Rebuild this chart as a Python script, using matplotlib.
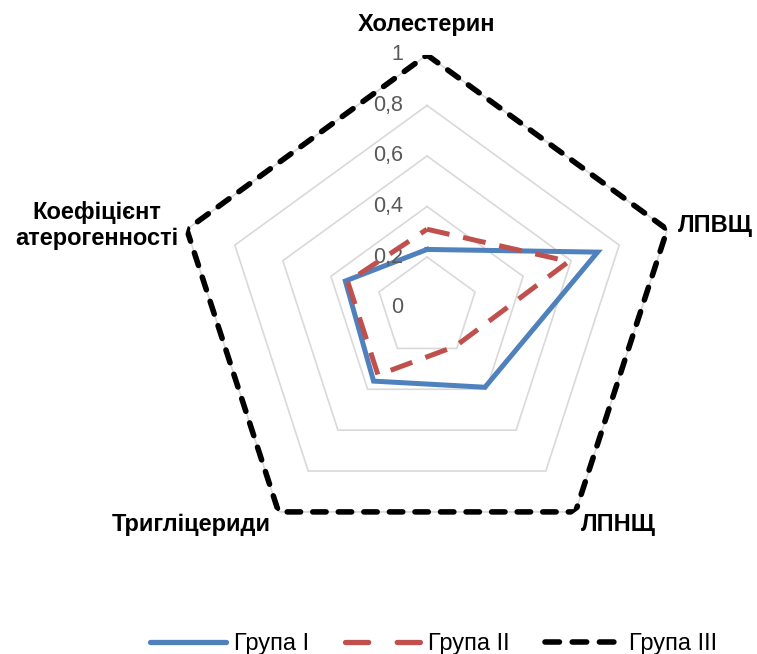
import numpy as np
import matplotlib
matplotlib.use("Agg")
from matplotlib import pyplot as plt
from matplotlib.lines import Line2D

plt.rcParams['font.family'] = ['Liberation Sans', 'DejaVu Sans']

categories = ['Холестерин', 'ЛПВЩ', 'ЛПНЩ', 'Тригліцериди', 'Коефіцієнт\nатерогенності']
group1 = [0.23, 0.71, 0.39, 0.36, 0.34]
group2 = [0.31, 0.59, 0.19, 0.33, 0.33]
group3 = [1.0, 1.0, 1.0, 1.0, 1.0]
series_names = ['Група I', 'Група II', 'Група III']
rings = [0.2, 0.4, 0.6, 0.8, 1.0]
tick_labels = ['0', '0,2', '0,4', '0,6', '0,8', '1']

n = len(categories)
angles = np.linspace(0, 2 * np.pi, n, endpoint=False)
closed = np.append(angles, angles[0])

def close(vals):
    return list(vals) + [vals[0]]

fig = plt.figure(figsize=(7.57, 6.54), dpi=100)
ax = fig.add_axes([0.2304, 0.1435, 0.6674, 0.7725], projection='polar')
ax.set_theta_offset(np.pi / 2)
ax.set_theta_direction(-1)
ax.set_ylim(0, 1)
ax.grid(False)
ax.spines['polar'].set_visible(False)
ax.set_xticks([])
ax.set_yticks([])

# pentagon gridlines
for r in rings:
    ax.plot(closed, [r] * (n + 1), color='#d9d9d9', lw=1.2, zorder=1)

# value labels along the top axis
for v, lab in zip([0.0] + rings, tick_labels):
    ax.annotate(lab, xy=(0, v), xytext=(-24, 0), textcoords='offset pixels',
                ha='right', va='center', fontsize=15.5, color='#595959')

blue = '#4f81bd'
red = '#c0504d'
ax.plot(closed, close(group3), color='black', lw=4.0,
        linestyle=(0, (2.4, 2.2)), dash_capstyle='round', zorder=3)
ax.plot(closed, close(group2), color=red, lw=3.6,
        linestyle=(0, (4.6, 2.8)), dash_capstyle='butt', zorder=3)
ax.plot(closed, close(group1), color=blue, lw=3.6, solid_joinstyle='miter', zorder=2)

# category labels around the outside
offsets = [(0, 30), (11, 4), (5, -13), (-8, -13), (-8, 4)]
aligns = [('center', 'center'), ('left', 'center'), ('left', 'center'),
          ('right', 'center'), ('right', 'center')]
for a, lab, off, (ha, va) in zip(angles, categories, offsets, aligns):
    ax.annotate(lab, xy=(a, 1.0), xytext=off, textcoords='offset pixels',
                ha=ha, va=va, fontsize=17, fontweight='bold',
                multialignment='center', linespacing=1.2, annotation_clip=False)

handles = [
    Line2D([], [], color=blue, lw=3.8, solid_capstyle='round'),
    Line2D([], [], color=red, lw=3.8, linestyle=(0, (4.4, 5.4)), dash_capstyle='round'),
    Line2D([], [], color='black', lw=4.0, linestyle=(0, (2.6, 2.3)), dash_capstyle='round'),
]
fig.legend(handles, series_names, loc='center', bbox_to_anchor=(0.573, 0.015),
           ncol=3, frameon=False, fontsize=17, handlelength=3.2, columnspacing=1.5,
           handletextpad=0.35, borderpad=0, borderaxespad=0)

fig.savefig('out.png', dpi=100)
